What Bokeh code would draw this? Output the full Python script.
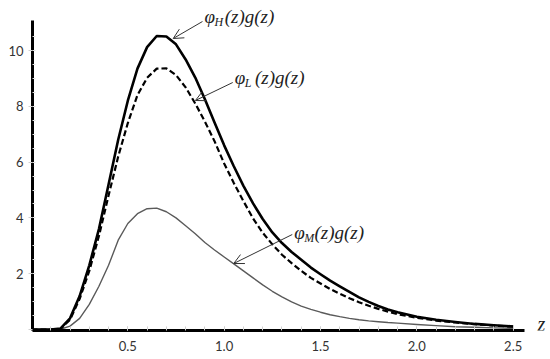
from bokeh.plotting import figure
from bokeh.models import Range1d, FixedTicker, Label, Arrow, OpenHead
from bokeh.embed import file_html
from bokeh.resources import INLINE

# ---- data ----
z = [0.00, 0.05, 0.10, 0.15, 0.20, 0.25, 0.30, 0.35, 0.40, 0.45, 0.50, 0.55,
     0.60, 0.65, 0.70, 0.75, 0.80, 0.85, 0.90, 0.95, 1.00, 1.05, 1.10, 1.15,
     1.20, 1.25, 1.30, 1.35, 1.40, 1.45, 1.50, 1.55, 1.60, 1.65, 1.70, 1.75,
     1.80, 1.85, 1.90, 2.00, 2.10, 2.20, 2.30, 2.40, 2.50]
phiH_g = [0, 0, 0, 0.03, 0.4, 1.2, 2.3, 3.6, 5.2, 6.8, 8.2, 9.35,
          10.12, 10.52, 10.5, 10.22, 9.68, 9.03, 8.25, 7.42, 6.6, 5.85, 5.15, 4.52,
          3.96, 3.48, 3.1, 2.78, 2.5, 2.22, 1.98, 1.75, 1.55, 1.35, 1.15, 0.99,
          0.84, 0.72, 0.62, 0.46, 0.35, 0.27, 0.2, 0.15, 0.11]
phiL_g = [0, 0, 0, 0.02, 0.35, 1.1, 2.1, 3.35, 4.8, 6.2, 7.4, 8.4,
          9.02, 9.35, 9.36, 9.12, 8.68, 8.1, 7.45, 6.75, 5.95, 5.25, 4.6, 3.98,
          3.47, 3.05, 2.68, 2.38, 2.1, 1.85, 1.65, 1.45, 1.28, 1.12, 0.98, 0.85,
          0.74, 0.64, 0.55, 0.42, 0.32, 0.25, 0.19, 0.14, 0.1]
phiM_g = [0, 0, 0, 0.01, 0.12, 0.4, 0.9, 1.55, 2.3, 3.2, 3.8, 4.15,
          4.33, 4.35, 4.22, 4.0, 3.72, 3.43, 3.12, 2.85, 2.6, 2.35, 2.1, 1.85,
          1.6, 1.37, 1.17, 0.99, 0.84, 0.72, 0.62, 0.53, 0.46, 0.4, 0.35, 0.31,
          0.28, 0.25, 0.23, 0.18, 0.14, 0.1, 0.08, 0.06, 0.04]
x_ticks = [0.5, 1.0, 1.5, 2.0, 2.5]
y_ticks = [0, 2, 4, 6, 8, 10]

# ---- layout (page pixels) ----
W, H = 550, 359
LEFT, TOP, BOTTOM = 32, 3, 29
FRAME_L = 32.5          # observed left edge of frame
FRAME_R = W - 4         # observed right edge of frame
PX_X = 191.0            # px per unit of z
PX_Y = 27.9             # px per unit of y
ZERO_X, ZERO_Y = 31.5, 329.0   # page position of (0, 0)

def dx(page_x):
    return (page_x - ZERO_X) / PX_X

def dy(page_y):
    return (ZERO_Y - page_y) / PX_Y

X_LO, X_HI = dx(FRAME_L), dx(FRAME_R)
Y_LO, Y_HI = dy(H - BOTTOM), dy(TOP)

p = figure(width=W, height=H, output_backend="svg", toolbar_location=None,
           x_range=Range1d(X_LO, X_HI), y_range=Range1d(Y_LO, Y_HI),
           min_border_left=LEFT, min_border_top=TOP, min_border_bottom=BOTTOM,
           min_border_right=0)
p.outline_line_color = None
p.grid.visible = False
p.background_fill_color = "white"
p.border_fill_color = "white"

# axes
xa = p.xaxis[0]
xa.bounds = (X_LO, 2.56)
xa.ticker = FixedTicker(ticks=x_ticks, minor_ticks=[round(0.1 * i, 1) for i in range(1, 26)])
xa.axis_line_width = 3
xa.axis_line_color = "black"
xa.major_tick_out = 0
xa.major_tick_in = 4
xa.major_tick_line_color = "#d0d0d0"
xa.minor_tick_in = 4
xa.minor_tick_out = 0
xa.minor_tick_line_color = "#d0d0d0"
xa.major_label_standoff = 10
xa.axis_label_standoff = 0
xa.major_label_text_font = "Lato"
xa.major_label_text_font_size = "13px"
xa.major_label_text_color = "#333333"
xa.major_label_overrides = {0.5: "0.5", 1.0: "1.0", 1.5: "1.5", 2.0: "2.0", 2.5: "2.5"}

ya = p.yaxis[0]
ya.bounds = (Y_LO, dy(20))
ya.ticker = FixedTicker(ticks=y_ticks, minor_ticks=[0.5 * i for i in range(1, 22)])
ya.axis_line_width = 3
ya.axis_line_color = "black"
ya.major_tick_out = 4
ya.major_tick_in = 0
ya.major_tick_line_color = "#d0d0d0"
ya.minor_tick_in = 3
ya.minor_tick_out = 0
ya.minor_tick_line_color = "#e0e0e0"
ya.major_label_standoff = 5
ya.axis_label_standoff = 0
ya.major_label_text_font = "Lato"
ya.major_label_text_font_size = "13px"
ya.major_label_text_color = "#333333"
ya.major_label_overrides = {0: ""}

# curves
p.line(z, phiM_g, line_color="#5a5a5a", line_width=1.4, line_join="round")
p.line(z, phiL_g, line_color="black", line_width=2.2, line_dash="6 3", line_join="round")
p.line(z, phiH_g, line_color="black", line_width=2.6, line_join="round")

# annotations
SERIF = "Liberation Serif"

def ann(page_x, page_y, sub):
    p.add_layout(Label(x=dx(page_x), y=dy(page_y), text="\u03c6", text_font=SERIF,
                       text_font_style="italic", text_font_size="19px",
                       text_baseline="middle", text_align="left", text_color="#222222"))
    p.add_layout(Label(x=dx(page_x + 10), y=dy(page_y + 5), text=sub, text_font=SERIF,
                       text_font_style="italic", text_font_size="12px",
                       text_baseline="middle", text_align="left", text_color="#222222"))
    p.add_layout(Label(x=dx(page_x + 20), y=dy(page_y), text="(z)g(z)", text_font=SERIF,
                       text_font_style="italic", text_font_size="19px",
                       text_baseline="middle", text_align="left", text_color="#222222"))

def arrow(x0, y0, x1, y1):
    p.add_layout(Arrow(end=OpenHead(size=10, line_color="#333333", line_width=1),
                       x_start=dx(x0), y_start=dy(y0), x_end=dx(x1), y_end=dy(y1),
                       line_color="#333333", line_width=1))

ann(203, 16, "H")
arrow(201, 21, 172, 38)
ann(233, 77, "L")
arrow(231, 82, 194, 100)
ann(292, 232, "M")
arrow(290, 234, 232, 263)

p.add_layout(Label(x=dx(537), y=dy(323), text="z", text_font=SERIF,
                   text_font_style="italic", text_font_size="20px",
                   text_baseline="middle", text_align="center", text_color="#222222"))

open("out.html", "w").write(file_html(p, INLINE))
